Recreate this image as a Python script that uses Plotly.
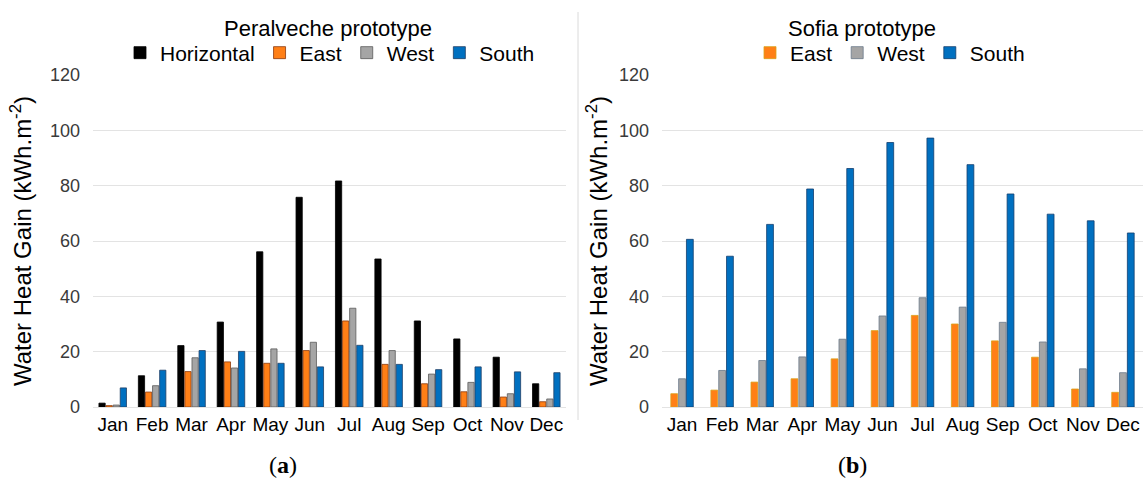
import plotly.graph_objects as go

months = ["Jan", "Feb", "Mar", "Apr", "May", "Jun", "Jul", "Aug", "Sep", "Oct", "Nov", "Dec"]

# Peralveche prototype (kWh.m-2)
per_horizontal = [1.4, 11.3, 22.2, 30.7, 56.1, 75.8, 81.7, 53.5, 31.1, 24.6, 18.0, 8.4]
per_east = [0.5, 5.4, 12.8, 16.3, 15.8, 20.4, 31.1, 15.4, 8.4, 5.5, 3.6, 1.9]
per_west = [0.7, 7.7, 17.8, 14.1, 21.0, 23.4, 35.7, 20.4, 11.9, 8.9, 4.8, 2.9]
per_south = [6.9, 13.3, 20.4, 20.1, 15.8, 14.5, 22.3, 15.4, 13.5, 14.5, 12.7, 12.4]

# Sofia prototype (kWh.m-2)
sof_east = [4.8, 6.1, 9.0, 10.2, 17.4, 27.6, 33.1, 30.0, 23.9, 18.0, 6.5, 5.3]
sof_west = [10.2, 13.2, 16.8, 18.1, 24.5, 32.9, 39.5, 36.1, 30.6, 23.5, 13.8, 12.4]
sof_south = [60.6, 54.5, 66.0, 78.8, 86.2, 95.6, 97.2, 87.6, 77.0, 69.7, 67.3, 62.9]

W, H = 1143, 483
BLACK = "#000000"
ORANGE = "#FF7F16"
GRAY = "#A5A5A5"
BLUE = "#0070C0"
FONT = "Liberation Sans, Arial, sans-serif"
Y_TITLE = "Water Heat Gain (kWh.m<sup>-2</sup>)"

fig = go.Figure()

left_series = [
    ("Horizontal", per_horizontal, BLACK, "#000000"),
    ("East", per_east, ORANGE, "#8B3A0E"),
    ("West", per_west, GRAY, "#5A5A5A"),
    ("South", per_south, BLUE, "#1F3F66"),
]
for name, vals, col, edge in left_series:
    fig.add_trace(go.Bar(
        x=months, y=vals, name=name, xaxis="x", yaxis="y", legend="legend",
        marker=dict(color=col, line=dict(color=edge, width=0.8)),
    ))

right_series = [
    ("East", sof_east, ORANGE, "#D9A21A", -0.28),
    ("West", sof_west, GRAY, "#6B7A8A", -0.085),
    ("South", sof_south, BLUE, "#123E6E", 0.11),
]
for name, vals, col, edge, off in right_series:
    fig.add_trace(go.Bar(
        x=months, y=vals, name=name, xaxis="x2", yaxis="y2", legend="legend2",
        width=0.17, offset=off,
        marker=dict(color=col, line=dict(color=edge, width=0.8)),
    ))

y_bottom = 1 - 407 / H
y_top = 1 - 75 / H


def y_axis(standoff, **extra):
    return dict(
        range=[0, 120], dtick=20, ticks="", ticklabelstandoff=12,
        showgrid=True, gridcolor="#E3E3E3", gridwidth=1.3,
        zeroline=False, showline=False,
        tickfont=dict(family=FONT, size=18, color="#3A3A3A"),
        title=dict(text=Y_TITLE, font=dict(family=FONT, size=24, color="#000000"), standoff=standoff),
        **extra,
    )


xaxis_common = dict(
    type="category", showgrid=False, showline=True, linecolor="#E3E3E3", linewidth=1.3,
    ticks="", tickfont=dict(family=FONT, size=19, color="#000000"),
)
legend_common = dict(
    orientation="h", xanchor="center", y=1 - 53 / H, yanchor="middle",
    font=dict(family=FONT, size=21, color="#000000"), itemwidth=30,
    bgcolor="rgba(0,0,0,0)", traceorder="normal",
)

fig.update_layout(
    width=W, height=H,
    margin=dict(l=0, r=0, t=0, b=0, autoexpand=False),
    paper_bgcolor="white", plot_bgcolor="white",
    barmode="group", bargap=0.28, bargroupgap=0.12,
    font=dict(family=FONT, color="#000000"),
    xaxis=dict(domain=[93 / W, 566 / W], anchor="y", **xaxis_common),
    yaxis=y_axis(11, domain=[y_bottom, y_top], anchor="x"),
    xaxis2=dict(domain=[662 / W, 1.0], anchor="y2", **xaxis_common),
    yaxis2=y_axis(4, domain=[y_bottom, y_top], anchor="x2"),
    legend=dict(x=330 / W, **legend_common),
    legend2=dict(x=890 / W, **legend_common),
    showlegend=True,
)

# Panel titles
for txt, xc in [("Peralveche prototype", 328), ("Sofia prototype", 862)]:
    fig.add_annotation(text=txt, x=xc / W, y=1 - 28 / H, xref="paper", yref="paper",
                       xanchor="center", yanchor="middle", showarrow=False,
                       font=dict(family=FONT, size=22, color="#000000"))

# Panel captions
SERIF = "Liberation Serif, DejaVu Serif, serif"
for txt, xc in [("(<b>a</b>)", 283), ("(<b>b</b>)", 852)]:
    fig.add_annotation(text=txt, x=xc / W, y=1 - 465 / H, xref="paper", yref="paper",
                       xanchor="center", yanchor="middle", showarrow=False,
                       font=dict(family=SERIF, size=24, color="#000000"))

# Divider between the two panels
fig.add_shape(type="line", xref="paper", yref="paper",
              x0=578 / W, x1=578 / W, y0=1 - 420 / H, y1=1 - 12 / H,
              line=dict(color="#DADADA", width=1))

fig.write_html("out.html")
